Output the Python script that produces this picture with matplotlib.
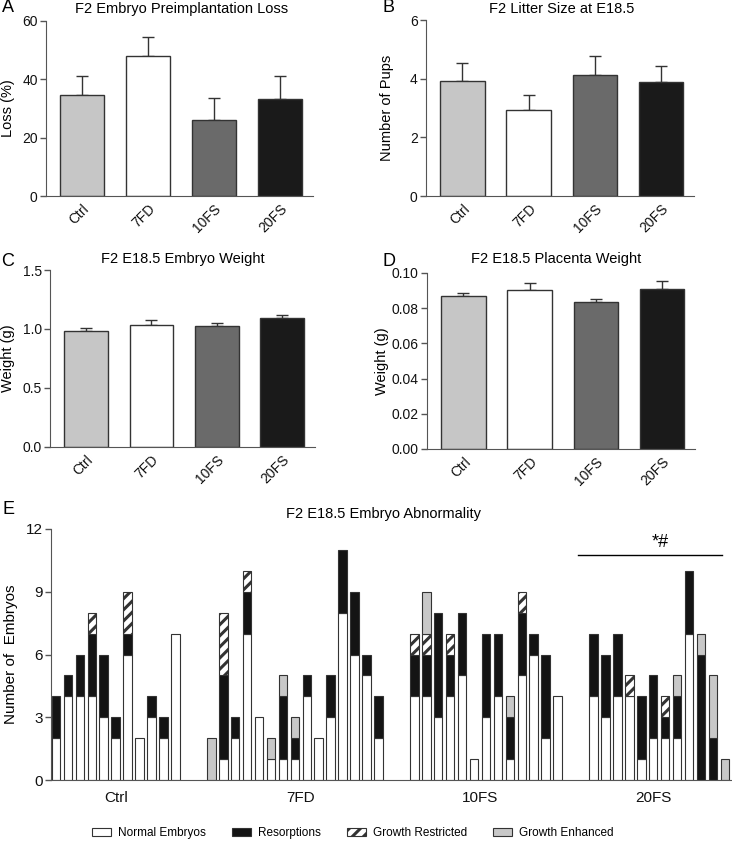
import matplotlib.pyplot as plt
from matplotlib.patches import Patch
from matplotlib.ticker import FormatStrFormatter
import numpy as np

plt.rcParams['font.family'] = ['Liberation Sans', 'DejaVu Sans']
plt.rcParams['hatch.linewidth'] = 2.2
plt.rcParams['axes.edgecolor'] = '#555555'
plt.rcParams['xtick.color'] = '#555555'
plt.rcParams['ytick.color'] = '#555555'
plt.rcParams['xtick.labelcolor'] = '#111111'
plt.rcParams['ytick.labelcolor'] = '#111111'

groups = ['Ctrl', '7FD', '10FS', '20FS']
group_colors = ['#c6c6c6', 'white', '#6a6a6a', '#1a1a1a']

# A - D : mean and upper error (SEM)
loss_mean = [34.6, 48.0, 26.0, 33.1]
loss_err = [6.5, 6.4, 7.6, 8.0]
litter_mean = [3.92, 2.92, 4.13, 3.88]
litter_err = [0.63, 0.51, 0.63, 0.56]
embryo_w_mean = [0.983, 1.037, 1.026, 1.091]
embryo_w_err = [0.028, 0.037, 0.025, 0.031]
placenta_w_mean = [0.0867, 0.0905, 0.0837, 0.0911]
placenta_w_err = [0.0019, 0.0036, 0.0017, 0.0042]

# E : one bar per litter (normal / resorption / restricted / enhanced)
ctrl_normal = [2, 4, 4, 4, 3, 2, 6, 2, 3, 2, 7]
ctrl_resorb = [2, 1, 2, 3, 3, 1, 1, 0, 1, 1, 0]
ctrl_restrict = [0, 0, 0, 1, 0, 0, 2, 0, 0, 0, 0]
ctrl_enhance = [0, 0, 0, 0, 0, 0, 0, 0, 0, 0, 0]

fd7_normal = [0, 1, 2, 7, 3, 1, 1, 1, 4, 2, 3, 8, 6, 5, 2]
fd7_resorb = [0, 4, 1, 2, 0, 0, 3, 1, 1, 0, 2, 3, 3, 1, 2]
fd7_restrict = [0, 3, 0, 1, 0, 0, 0, 0, 0, 0, 0, 0, 0, 0, 0]
fd7_enhance = [2, 0, 0, 0, 0, 1, 1, 1, 0, 0, 0, 0, 0, 0, 0]

fs10_normal = [4, 4, 3, 4, 5, 1, 3, 4, 1, 5, 6, 2, 4]
fs10_resorb = [2, 2, 5, 2, 3, 0, 4, 3, 2, 3, 1, 4, 0]
fs10_restrict = [1, 1, 0, 1, 0, 0, 0, 0, 0, 1, 0, 0, 0]
fs10_enhance = [0, 2, 0, 0, 0, 0, 0, 0, 1, 0, 0, 0, 0]

fs20_normal = [4, 3, 4, 4, 1, 2, 2, 2, 7, 0, 0, 0]
fs20_resorb = [3, 3, 3, 0, 3, 3, 1, 2, 3, 6, 2, 0]
fs20_restrict = [0, 0, 0, 1, 0, 0, 1, 0, 0, 0, 0, 0]
fs20_enhance = [0, 0, 0, 0, 0, 0, 0, 1, 0, 1, 3, 1]

W, H = 732.0, 843.0
fig = plt.figure(figsize=(7.32, 8.43), dpi=100)


def px_axes(l, t, r, b):
	return fig.add_axes([l / W, 1 - b / H, (r - l) / W, (b - t) / H])


def summary_panel(ax, mean, err, ymax, step, fmt, ylabel, lab_x):
	x = np.arange(len(groups))
	ax.bar(x, mean, 0.67, color=group_colors, edgecolor='#333333', linewidth=1.0, zorder=2)
	ax.errorbar(x, mean, yerr=[np.zeros(len(mean)), err], fmt='none', ecolor='#333333',
				elinewidth=1.0, capsize=4.5, capthick=1.0, zorder=1)
	ax.set_xlim(-0.55, 3.5)
	ax.set_ylim(0, ymax)
	ax.set_yticks(np.arange(0, ymax + step / 2, step))
	ax.yaxis.set_major_formatter(FormatStrFormatter(fmt))
	ax.set_xticks(x)
	ax.set_xticklabels(groups, rotation=45, ha='right', rotation_mode='anchor')
	ax.tick_params(axis='x', length=0, pad=4, labelsize=10)
	ax.tick_params(axis='y', length=4, width=1, labelsize=10, pad=2)
	ax.spines['top'].set_visible(False)
	ax.spines['right'].set_visible(False)
	ax.set_ylabel(ylabel, fontsize=10.5)
	ax.yaxis.set_label_coords(lab_x, 0.5)


axA = px_axes(46, 21, 313, 196)
summary_panel(axA, loss_mean, loss_err, 60, 20, '%d', 'Loss (%)', -0.116)
axB = px_axes(426, 20, 694, 196)
summary_panel(axB, litter_mean, litter_err, 6, 2, '%d', 'Number of Pups', -0.119)
axC = px_axes(50, 270, 315, 447)
summary_panel(axC, embryo_w_mean, embryo_w_err, 1.5, 0.5, '%.1f', 'Weight (g)', -0.132)
axD = px_axes(427, 273, 695, 449)
summary_panel(axD, placenta_w_mean, placenta_w_err, 0.10, 0.02, '%.2f', 'Weight (g)', -0.142)

# titles and panel letters
fig.text(182 / W, 1 - 9 / H, 'F2 Embryo Preimplantation Loss', ha='center', va='center', fontsize=10.5)
fig.text(562 / W, 1 - 9 / H, 'F2 Litter Size at E18.5', ha='center', va='center', fontsize=10.5)
fig.text(183 / W, 1 - 259 / H, 'F2 E18.5 Embryo Weight', ha='center', va='center', fontsize=10.5)
fig.text(556 / W, 1 - 259 / H, 'F2 E18.5 Placenta Weight', ha='center', va='center', fontsize=10.5)
fig.text(384 / W, 1 - 514 / H, 'F2 E18.5 Embryo Abnormality', ha='center', va='center', fontsize=10.5)
for letter, lx, ly in [('A', 8, 8), ('B', 388, 8), ('C', 8, 262), ('D', 389, 262), ('E', 8, 510)]:
	fig.text(lx / W, 1 - ly / H, letter, ha='center', va='center', fontsize=13)

# E
axE = px_axes(51, 529, 732, 780)
e_data = [
	(ctrl_normal, ctrl_resorb, ctrl_restrict, ctrl_enhance),
	(fd7_normal, fd7_resorb, fd7_restrict, fd7_enhance),
	(fs10_normal, fs10_resorb, fs10_restrict, fs10_enhance),
	(fs20_normal, fs20_resorb, fs20_restrict, fs20_enhance),
]
styles = [('white', None), ('#141414', None), ('white', '///'), ('#c8c8c8', None)]
pos = 0
for block in e_data:
	n = len(block[0])
	x = np.arange(pos, pos + n)
	bottom = np.zeros(n)
	for vals, (fc, hatch) in zip(block, styles):
		vals = np.array(vals, dtype=float)
		keep = vals > 0
		axE.bar(x[keep], vals[keep], 0.72, bottom=bottom[keep], color=fc, edgecolor='#333333',
				linewidth=0.8, hatch=hatch)
		bottom = bottom + vals
	pos += n + 2

axE.set_xlim(-0.42, 56.6)
axE.set_ylim(0, 12)
axE.set_yticks([0, 3, 6, 9, 12])
axE.set_xticks([5, 20.5, 35.5, 50])
axE.set_xticklabels(groups)
axE.tick_params(axis='x', length=0, pad=8, labelsize=11)
axE.tick_params(axis='y', length=4, width=1, labelsize=11, pad=2)
axE.spines['top'].set_visible(False)
axE.spines['right'].set_visible(False)
axE.set_ylabel('Number of  Embryos', fontsize=11)
axE.yaxis.set_label_coords(-0.048, 0.5)

# significance bar over 20FS
axE.plot([43.7, 55.8], [10.75, 10.75], color='black', linewidth=1.0, clip_on=False)
axE.text(50.6, 10.95, '*#', ha='center', va='bottom', fontsize=13)

handles = [
	Patch(facecolor='white', edgecolor='#333333', linewidth=0.8, label='Normal Embryos'),
	Patch(facecolor='#141414', edgecolor='#333333', linewidth=0.8, label='Resorptions'),
	Patch(facecolor='white', edgecolor='#333333', linewidth=0.8, hatch='///', label='Growth Restricted'),
	Patch(facecolor='#c8c8c8', edgecolor='#333333', linewidth=0.8, label='Growth Enhanced'),
]
fig.legend(handles=handles, loc='center', bbox_to_anchor=(353 / W, 1 - 833 / H), ncol=4,
		   frameon=False, fontsize=8.5, handlelength=1.6, handleheight=0.6,
		   columnspacing=2.2, handletextpad=0.6)

fig.savefig('out.png', dpi=100)
